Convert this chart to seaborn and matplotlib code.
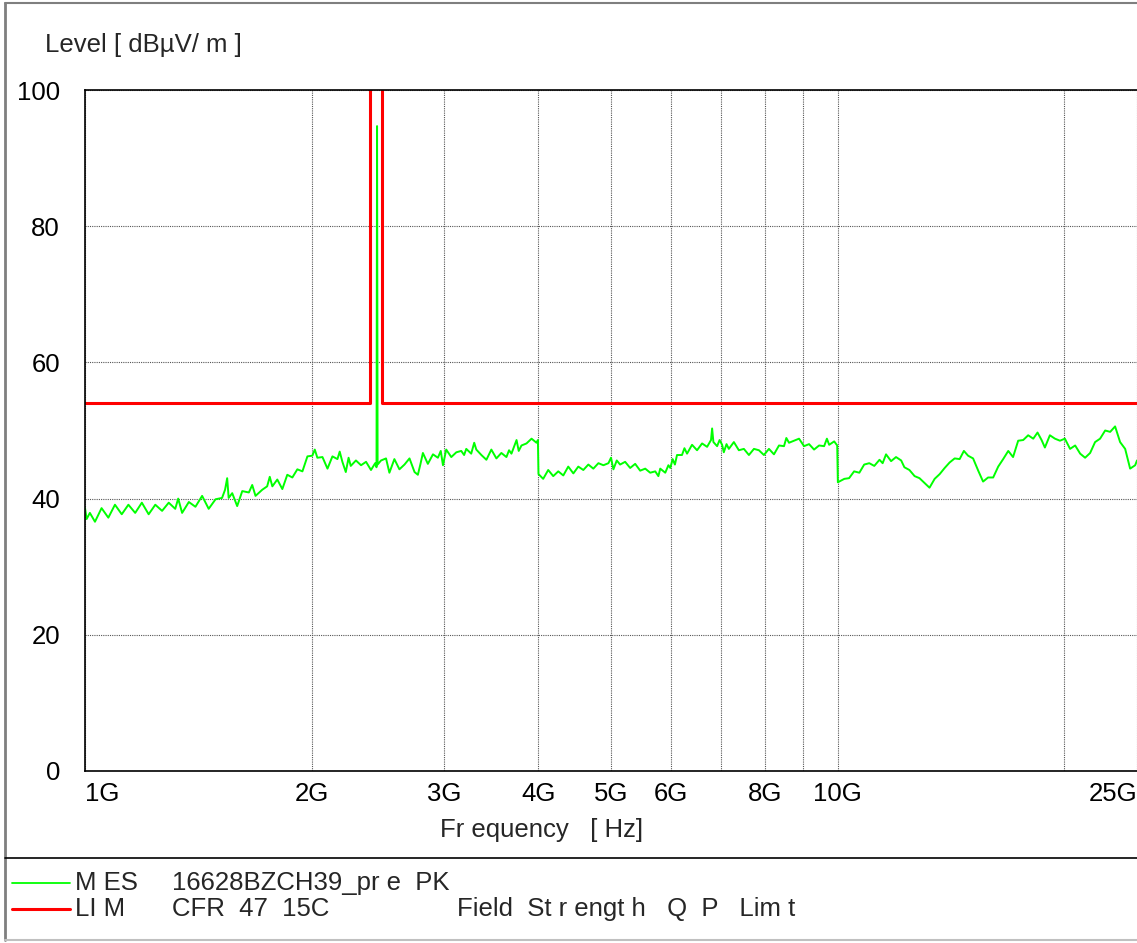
import matplotlib
matplotlib.use("Agg")
import matplotlib.pyplot as plt
import seaborn as sns
import pandas as pd
from matplotlib.lines import Line2D

# measured trace, frequency in GHz / level in dBuV/m
mes_freq = [
    1.000, 1.005, 1.015, 1.031, 1.052, 1.074, 1.096, 1.119, 1.142, 1.166,
    1.190, 1.215, 1.240, 1.266, 1.292, 1.318, 1.330, 1.346, 1.374, 1.402,
    1.431, 1.460, 1.491, 1.521, 1.535, 1.545, 1.552, 1.569, 1.593, 1.618,
    1.651, 1.668, 1.685, 1.720, 1.746, 1.760, 1.774, 1.801, 1.829, 1.857,
    1.886, 1.915, 1.945, 1.975, 2.005, 2.020, 2.036, 2.068, 2.100, 2.132,
    2.165, 2.180, 2.198, 2.221, 2.240, 2.255,
    2.291, 2.327, 2.363, 2.399, 2.430, 2.440, 2.444, 2.448, 2.474, 2.512,
    2.538, 2.577, 2.617, 2.658, 2.699, 2.741, 2.769, 2.790, 2.812, 2.855,
    2.900, 2.944, 2.970, 2.990, 3.020, 3.067, 3.115, 3.162, 3.190, 3.211,
    3.260, 3.290, 3.311, 3.363, 3.415, 3.467, 3.521, 3.575, 3.631, 3.660,
    3.687, 3.745, 3.770, 3.802, 3.861, 3.921, 3.981, 3.998, 4.005, 4.063,
    4.126, 4.190, 4.255, 4.321, 4.387, 4.456, 4.524, 4.594, 4.665, 4.737,
    4.811, 4.885, 4.961, 5.000, 5.037, 5.089,
    5.141, 5.221, 5.302, 5.384, 5.467, 5.552, 5.637, 5.725, 5.780, 5.813,
    5.903, 5.960, 5.995, 6.038, 6.080, 6.119, 6.213, 6.260, 6.310, 6.407,
    6.506, 6.607, 6.709, 6.790, 6.813, 6.840, 6.918, 6.970, 7.025, 7.061,
    7.120, 7.171, 7.282, 7.394, 7.508, 7.625, 7.743, 7.862, 7.983, 8.107,
    8.232, 8.360, 8.489, 8.550, 8.620, 8.753, 8.889, 9.026, 9.166, 9.307,
    9.451, 9.598, 9.680, 9.747, 9.898, 9.990, 10.01, 10.21, 10.36, 10.52,
    10.69, 10.85, 11.02, 11.19, 11.37, 11.48,
    11.60, 11.78, 11.96, 12.15, 12.27, 12.46, 12.66, 12.85, 13.05, 13.25,
    13.46, 13.67, 13.88, 14.09, 14.31, 14.53, 14.72, 14.91, 15.14, 15.38,
    15.61, 15.85, 16.10, 16.35, 16.60, 16.86, 17.11, 17.38, 17.65, 17.92,
    18.20, 18.44, 18.67, 18.86, 19.15, 19.45, 19.75, 20.05, 20.22, 20.37,
    20.69, 21.01, 21.33, 21.66, 21.99, 22.33, 22.68, 23.03, 23.38, 23.74,
    24.11, 24.48, 24.86, 25.00,
]
mes_level = [
    38.6, 37.0, 37.9, 36.6, 38.6, 37.2, 39.1, 37.7, 39.1, 37.9,
    39.4, 37.7, 39.1, 38.2, 39.4, 38.5, 40.0, 37.9, 39.5, 38.8,
    40.4, 38.5, 39.9, 40.1, 41.3, 43.0, 40.1, 40.8, 38.9, 41.1,
    40.9, 42.0, 40.4, 41.3, 41.8, 43.2, 41.8, 42.8, 41.4, 43.5,
    43.1, 44.3, 44.0, 46.2, 46.3, 47.2, 46.0, 46.1, 44.4, 46.2,
    45.8, 46.9, 45.4, 43.9, 46.0, 44.8,
    45.6, 44.9, 45.4, 44.2, 45.2, 44.6, 94.7, 45.0, 45.6, 45.9,
    43.8, 45.8, 44.3, 45.0, 45.9, 43.9, 43.5, 45.0, 46.7, 45.1,
    46.5, 46.0, 47.0, 44.9, 47.2, 46.1, 46.8, 47.0, 46.4, 47.3,
    46.6, 48.2, 47.2, 46.4, 45.7, 47.2, 45.9, 46.7, 46.1, 47.1,
    46.6, 48.6, 47.0, 47.8, 48.1, 48.8, 48.2, 48.6, 43.6, 42.9,
    44.2, 43.3, 44.0, 43.4, 44.7, 43.7, 44.7, 44.2, 45.0, 44.4,
    45.2, 44.9, 45.2, 46.0, 44.3, 45.6,
    45.0, 45.4, 44.5, 45.1, 44.1, 44.4, 43.8, 44.0, 43.3, 44.4,
    43.8, 44.9, 44.5, 45.8, 45.0, 46.4, 46.4, 47.4, 46.6, 47.9,
    47.1, 48.1, 47.6, 48.6, 50.3, 48.3, 47.7, 48.6, 47.9, 46.8,
    48.0, 47.3, 48.3, 47.1, 47.3, 46.4, 47.3, 47.1, 46.4, 47.3,
    46.5, 47.8, 47.7, 48.9, 48.2, 48.5, 48.8, 47.7, 48.0, 47.2,
    47.8, 47.7, 48.8, 47.9, 48.4, 47.8, 42.4, 42.9, 43.0, 44.0,
    43.8, 45.0, 45.2, 44.8, 45.7, 45.2,
    46.5, 45.5, 46.1, 45.6, 44.6, 44.2, 43.3, 43.0, 42.3, 41.6,
    42.9, 43.6, 44.5, 45.3, 45.9, 45.8, 47.0, 46.3, 45.9, 44.1,
    42.5, 43.1, 43.1, 44.7, 45.8, 47.0, 46.1, 48.5, 48.6, 49.3,
    48.8, 49.7, 48.6, 47.5, 49.3, 48.8, 48.5, 48.8, 48.0, 47.3,
    47.8, 46.6, 46.0, 46.7, 48.3, 48.8, 50.0, 49.8, 50.6, 48.3,
    47.3, 44.4, 44.9, 45.6,
]

# CFR 47 15C field strength limit with the restricted-band notch
lim_freq = [1.0, 2.39, 2.39, 2.4835, 2.4835, 25.0]
lim_level = [54, 54, 120, 120, 54, 54]

tick_pos = [1, 2, 3, 4, 5, 6, 7, 8, 9, 10, 20, 25]
tick_lab = ['1G', '2G', '3G', '4G', '5G', '6G', '', '8G', '', '10G', '', '25G']
y_ticks = [0, 20, 40, 60, 80, 100]

mes = pd.DataFrame({'freq': mes_freq, 'level': mes_level})
lim = pd.DataFrame({'freq': lim_freq, 'level': lim_level})

sns.set_style('white')
plt.rcParams['font.family'] = ['Liberation Sans', 'DejaVu Sans']
FS = 18.5

fig = plt.figure(figsize=(11.37, 9.43), dpi=100)
ax = fig.add_axes([85 / 1137, 1 - 771 / 943, 1 - 85 / 1137, (771 - 90) / 943])

sns.lineplot(data=mes, x='freq', y='level', estimator=None, sort=False,
             color='#00ff00', linewidth=1.4, ax=ax)
sns.lineplot(data=lim, x='freq', y='level', estimator=None, sort=False,
             color='#ff0000', linewidth=2.2, ax=ax)

ax.set_xscale('log')
ax.set_xlim(1, 25)
ax.set_ylim(0, 100)
ax.set_xticks(tick_pos)
ax.set_xticklabels(tick_lab)
ax.xaxis.set_minor_locator(matplotlib.ticker.NullLocator())
ax.set_yticks(y_ticks)
ax.tick_params(length=0, labelsize=FS, colors='black')
ax.tick_params(axis='y', pad=18)
ax.tick_params(axis='x', pad=8)
labels = ax.get_xticklabels()
labels[0].set_ha('left')
labels[-1].set_ha('right')

ax.grid(True, color='#555555', linestyle=(0, (1, 1)), linewidth=0.8)
for side in ['left', 'top', 'bottom']:
    ax.spines[side].set_color('black')
    ax.spines[side].set_linewidth(1.2)
ax.spines['right'].set_visible(False)
ax.set_xlabel('')
ax.set_ylabel('')

fig.text(542 / 1137, 1 - 830 / 943, 'Fr equency   [ Hz]', fontsize=FS,
         ha='center', va='center')
fig.text(45 / 1137, 1 - 45 / 943, 'Level [ dBµV/ m ]', fontsize=FS, va='center')

# outer frame and legend block
fig.add_artist(Line2D([5 / 1137, 5 / 1137], [3 / 943, 1 - 3 / 943], color='#7f7f7f', lw=2))
fig.add_artist(Line2D([5 / 1137, 1], [1 - 3 / 943, 1 - 3 / 943], color='#7f7f7f', lw=1.5))
fig.add_artist(Line2D([5 / 1137, 1], [3 / 943, 3 / 943], color='#c0c0c0', lw=1.5))
fig.add_artist(Line2D([5 / 1137, 1], [1 - 858 / 943, 1 - 858 / 943], color='black', lw=1.2))

rows = [
    ('#00ff00', 1.3, 'M ES', '16628BZCH39_pr e  PK', ''),
    ('#ff0000', 2.2, 'LI M', 'CFR  47  15C', 'Field  St r engt h   Q  P   Lim t'),
]
for i, (col, lw, tag, name, desc) in enumerate(rows):
    yy = 1 - (883 + 26 * i) / 943
    fig.add_artist(Line2D([12 / 1137, 70 / 1137], [yy, yy], color=col, lw=lw))
    fig.text(75 / 1137, yy, tag, fontsize=FS, va='center')
    fig.text(172 / 1137, yy, name, fontsize=FS, va='center')
    if desc:
        fig.text(457 / 1137, yy, desc, fontsize=FS, va='center')

fig.savefig('out.png', dpi=100)
